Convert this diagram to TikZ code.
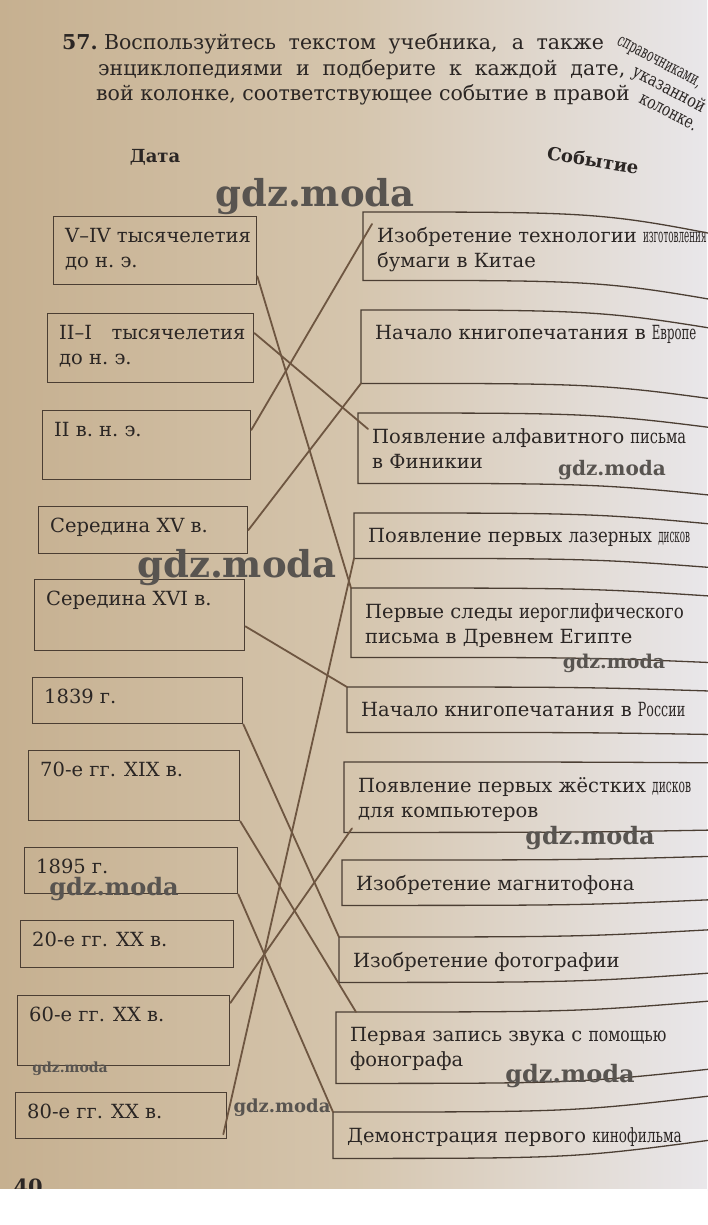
\documentclass[tikz,border=0pt]{standalone}
\usepackage{fontspec}
\usepackage{graphicx}
\setmainfont{DejaVu Serif}
\usetikzlibrary{calc,positioning}
\definecolor{bgL}{RGB}{198,176,144}
\definecolor{bgM}{RGB}{213,197,173}
\definecolor{bgR}{RGB}{233,231,234}
\definecolor{inkcol}{RGB}{43,38,36}
\definecolor{framecol}{RGB}{75,62,51}
\definecolor{linkcol}{RGB}{110,86,65}
\definecolor{wmcol}{RGB}{88,84,80}
\newcommand\sqz[2]{\scalebox{#1}[1]{#2}}
\tikzset{datebox/.style={draw=framecol,line width=1.3pt,anchor=north west,inner sep=0pt},
evbox/.style={anchor=north west,inner sep=0pt,minimum width=330},
frame/.style={draw=framecol,line width=1.3pt},
boxtext/.style={anchor=north west,align=left,inner sep=0pt,text=inkcol,font=\fontsize{19.5}{25}\selectfont},
tasktext/.style={anchor=base west,inner sep=0pt,text=inkcol,font=\fontsize{20.5}{25}\selectfont},
bent/.style={tasktext,rotate=-28,font=\fontsize{18}{18}\selectfont},
head/.style={text=inkcol,font=\bfseries\fontsize{18}{25}\selectfont},
link/.style={draw=linkcol,line width=1.8pt,line cap=round},
wm/.style={text=wmcol,font=\bfseries}}

\begin{document}
\begin{tikzpicture}[x=1pt,y=-1pt]
\useasboundingbox (0,0) rectangle (707,1225);
\shade[left color=bgL,right color=bgR,middle color=bgM] (0,0) rectangle (707,1190);

% task text
\node[tasktext] (q1) at (62,50) {\textbf{57.}\hspace{0.3em}\makebox[500pt][s]{Воспользуйтесь текстом учебника, а также}};
\node[bent] (q1r) at (616,44) {\sqz{0.6}{справочниками,}};
\node[tasktext] (q2) at (98,76) {\makebox[527pt][s]{энциклопедиями и подберите к каждой дате,}};
\node[bent] (q2r) at (631,75) {\sqz{0.8}{указанной}};
\node[tasktext] (q3) at (96,101) {вой колонке, соответствующее событие в правой};
\node[bent] (q3r) at (638,102) {\sqz{0.75}{колонке.}};

\node[head] (hd) at (155,157) {Дата};
\node[head,rotate=-9] (he) at (593,160) {Событие};

% dates
\foreach \x/\y/\w/\h/\t [count=\i] in {
  53/216/203/68/{V–IV тысячелетия\\до н.~э.},
  47/313/206/69/{II–I\hspace{1em}тысячелетия\\до н.~э.},
  42/410/208/69/{II в.~н.~э.},
  38/506/209/47/{Середина XV в.},
  34/579/210/71/{Середина XVI в.},
  32/677/210/46/{1839 г.},
  28/750/211/70/{70-е гг. XIX в.},
  24/847/213/46/{1895 г.},
  20/920/213/47/{20-е гг. XX в.},
  17/995/212/70/{60-е гг. XX в.},
  15/1092/211/46/{80-е гг. XX в.}}
{
  \node[datebox,minimum width=\w,minimum height=\h] (d\i) at (\x,\y) {};
  \node[boxtext] (d\i t) at ([shift={(12pt,-12pt)}]d\i.north west) {\t};
}

% events
\foreach \x/\y/\h/\t [count=\i] in {
  363/212/68/{Изобретение технологии \sqz{0.45}{изготовления}\\бумаги в Китае},
  361/310/73/{Начало книгопечатания в \sqz{0.6}{Европе}},
  358/413/70/{Появление алфавитного \sqz{0.75}{письма}\\в Финикии},
  354/513/45/{Появление первых \sqz{0.85}{лазерных} \sqz{0.45}{дисков}},
  351/588/69/{Первые следы \sqz{0.85}{иероглифического}\\письма в Древнем Египте},
  347/687/45/{Начало книгопечатания в \sqz{0.65}{России}},
  344/762/70/{Появление первых жёстких \sqz{0.55}{дисков}\\для компьютеров},
  342/860/45/{Изобретение магнитофона},
  339/937/45/{Изобретение фотографии},
  336/1012/71/{Первая запись звука с \sqz{0.8}{помощью}\\фонографа},
  333/1112/46/{Демонстрация первого \sqz{0.7}{кинофильма}}}
{
  \pgfmathsetmacro\dt{30-(\y-212)/18.92}
  \pgfmathsetmacro\db{30-(\y+\h-212)/18.92}
  \node[evbox,minimum height=\h] (e\i) at (\x,\y) {};
  \node[boxtext] (e\i t) at ([shift={(14pt,-15pt)}]e\i.north west) {\t};
  \draw[frame] ($(e\i.north west)+(390,\dt)$) .. controls ($(e\i.north west)+(240,0)$) .. (e\i.north west)
    -- (e\i.south west) .. controls ($(e\i.south west)+(240,0)$) .. ($(e\i.south west)+(390,\db)$);
}

% answers
\draw[link] ([yshift=9pt]d1.south east) -- (e5.north west);
\draw[link] ([yshift=-20pt]d2.north east) -- ([shift={(10pt,-16pt)}]e3.north west);
\draw[link] ([yshift=-20pt]d3.north east) -- ([shift={(9pt,-12pt)}]e1.north west);
\draw[link] (d4.east) -- (e2.south west);
\draw[link] ([yshift=25pt]d5.south east) -- (e6.north west);
\draw[link] (d6.south east) -- (e9.north west);
\draw[link] (d7.south east) -- ([xshift=20pt]e10.north west);
\draw[link] (d8.south east) -- (e11.north west);
\draw[link] ([shift={(8pt,4pt)}]e7.south west) -- ([yshift=-8pt]d10.north east);
\draw[link] (e4.south west) -- ([shift={(-4pt,5pt)}]d11.south east);

% watermarks
\node[wm,font=\bfseries\fontsize{37}{37}\selectfont] (w1) at (315,197) {gdz.moda};
\node[wm,font=\bfseries\fontsize{37}{37}\selectfont] (w2) at (237,568) {gdz.moda};
\node[wm,font=\bfseries\fontsize{20}{20}\selectfont] (w3) at (612,470) {gdz.moda};
\node[wm,font=\bfseries\fontsize{19}{19}\selectfont] (w4) at (614,663) {gdz.moda};
\node[wm,font=\bfseries\fontsize{24}{24}\selectfont] (w5) at (590,838) {gdz.moda};
\node[wm,font=\bfseries\fontsize{24}{24}\selectfont] (w6) at (114,889) {gdz.moda};
\node[wm,font=\bfseries\fontsize{24}{24}\selectfont] (w7) at (570,1076) {gdz.moda};
\node[wm,font=\bfseries\fontsize{14}{14}\selectfont] (w8) at (70,1069) {gdz.moda};
\node[wm,font=\bfseries\fontsize{18}{18}\selectfont] (w9) at (282,1108) {gdz.moda};

% page number
\node[head,anchor=base west,font=\bfseries\fontsize{21}{25}\selectfont] (pg) at (10,1194) {40};
\fill[white] (0,1189) rectangle (707,1225);
\end{tikzpicture}
\end{document}
